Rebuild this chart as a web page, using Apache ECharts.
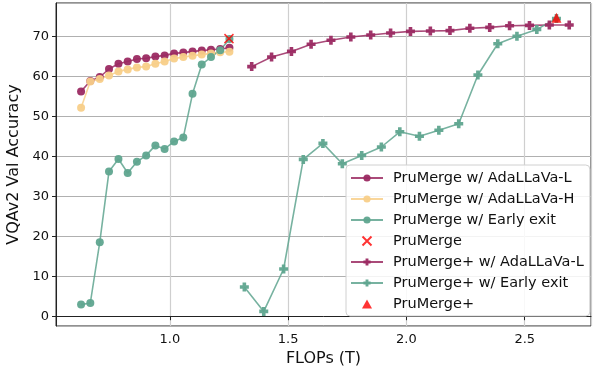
<!DOCTYPE html>
<html>
<head>
<meta charset="utf-8">
<script src="https://cdn.jsdelivr.net/npm/echarts@6/dist/echarts.min.js"></script>
<style>
  html, body { margin: 0; padding: 0; background: #fff; }
  #chart { width: 594px; height: 368px; }
</style>
</head>
<body>
<div id="chart"></div>
<script>
  // FLOPs (T) for the PruMerge runs
  const pmFlops = [0.625, 0.664, 0.704, 0.743, 0.783, 0.822, 0.861, 0.900, 0.939, 0.978, 1.018, 1.057, 1.096, 1.135, 1.174, 1.213, 1.252];
  const pmAdaL = [56.2, 58.8, 59.8, 61.8, 63.1, 63.7, 64.3, 64.5, 64.9, 65.2, 65.7, 65.9, 66.2, 66.4, 66.6, 66.8, 67.1];
  const pmAdaH = [52.1, 58.7, 59.3, 60.2, 61.2, 61.7, 62.2, 62.4, 63.1, 63.7, 64.4, 64.8, 65.1, 65.4, 65.7, 66.0, 66.1];
  const pmEarly = [2.9, 3.3, 18.5, 36.2, 39.3, 35.8, 38.6, 40.2, 42.7, 41.8, 43.7, 44.7, 55.6, 62.9, 64.8, 66.5, 69.3];
  const pmBase = [[1.25, 69.4]];

  // PruMerge+ runs
  const ppFlops = [1.346, 1.430, 1.514, 1.597, 1.681, 1.765, 1.849, 1.933, 2.017, 2.101, 2.184, 2.268, 2.352, 2.436, 2.520, 2.604, 2.688];
  const ppAdaL = [62.4, 64.8, 66.2, 68.0, 69.0, 69.8, 70.3, 70.8, 71.2, 71.3, 71.4, 72.0, 72.2, 72.6, 72.7, 72.8, 72.8];
  const ppEarlyFlops = [1.315, 1.397, 1.481, 1.564, 1.647, 1.729, 1.811, 1.894, 1.972, 2.055, 2.137, 2.221, 2.302, 2.386, 2.467, 2.551, 2.634];
  const ppEarly = [7.3, 1.2, 11.8, 39.2, 43.2, 38.1, 40.2, 42.3, 46.1, 45.0, 46.5, 48.1, 60.3, 68.1, 70.0, 71.7, 74.4];
  const ppBase = [[2.634, 74.6]];

  const PURPLE = '#9b2a62';
  const YELLOW = '#f8cf89';
  const GREEN = '#5fa58f';
  const FONT = 'DejaVu Sans';

  // filled plus (matplotlib 'P'), stroked x, triangle
  const PLUS = 'path://M3,0H7V3H10V7H7V10H3V7H0V3H3Z';
  const CROSS = 'path://M0,0L10,10M10,0L0,10';
  const TRIANGLE = 'path://M5,0L10,9L0,9Z';

  const zip = (xs, ys) => xs.map((x, i) => [x, ys[i]]);

  const lineSeries = (name, xs, ys, color, symbol, size) => ({
    name,
    type: 'line',
    data: zip(xs, ys),
    symbol,
    symbolSize: size,
    lineStyle: { color, width: 1.6, opacity: 0.85 },
    itemStyle: { color, opacity: 0.95 },
    emphasis: { disabled: true },
  });

  const chart = echarts.init(document.getElementById('chart'));

  chart.setOption({
    animation: false,
    textStyle: { fontFamily: FONT },
    grid: {
      left: 56,
      right: 3,
      top: 3,
      bottom: 42,
      outerBoundsMode: 'none',
      containLabel: false,
      show: true,
      borderColor: '#222',
      borderWidth: 1,
    },
    legend: {
      orient: 'vertical',
      left: 346,
      top: 165,
      itemWidth: 32,
      itemHeight: 9,
      itemGap: 5,
      padding: [5, 6, 4, 4],
      backgroundColor: 'rgba(255,255,255,0.85)',
      borderColor: '#d0d0d0',
      borderWidth: 1,
      borderRadius: 4,
      textStyle: { fontFamily: FONT, fontSize: 14.5, color: '#111', lineHeight: 16, padding: [0, 0, 0, 5] },
      data: [
        'PruMerge w/ AdaLLaVa-L',
        'PruMerge w/ AdaLLaVa-H',
        'PruMerge w/ Early exit',
        'PruMerge',
        'PruMerge+ w/ AdaLLaVa-L',
        'PruMerge+ w/ Early exit',
        'PruMerge+',
      ],
    },
    xAxis: {
      type: 'value',
      min: 0.519,
      max: 2.78,
      splitNumber: 5,
      name: 'FLOPs (T)',
      nameLocation: 'middle',
      nameGap: 21,
      nameTextStyle: { fontFamily: FONT, fontSize: 16, color: '#111' },
      axisLine: { show: true, lineStyle: { color: '#222', width: 1 } },
      axisTick: { show: true, length: 4, lineStyle: { color: '#222' } },
      axisLabel: {
        showMinLabel: false,
        showMaxLabel: false,
        margin: 7,
        fontSize: 13,
        color: '#111',
        fontFamily: FONT,
        formatter: (v) => v.toFixed(1),
      },
      splitLine: { show: true, lineStyle: { color: '#cfcfcf', width: 1.2 } },
    },
    yAxis: {
      type: 'value',
      min: -2.45,
      max: 78.3,
      splitNumber: 8,
      name: 'VQAv2 Val Accuracy',
      nameLocation: 'middle',
      nameGap: 30,
      nameTextStyle: { fontFamily: FONT, fontSize: 16, color: '#111' },
      axisLine: { show: true, lineStyle: { color: '#222', width: 1 } },
      axisTick: { show: true, length: 4, lineStyle: { color: '#222' } },
      axisLabel: {
        showMinLabel: false,
        showMaxLabel: false,
        margin: 7,
        fontSize: 13,
        color: '#111',
        fontFamily: FONT,
      },
      splitLine: { show: true, lineStyle: { color: '#b0b0b0', width: 1 } },
    },
    series: [
      lineSeries('PruMerge w/ AdaLLaVa-L', pmFlops, pmAdaL, PURPLE, 'circle', 8),
      lineSeries('PruMerge w/ AdaLLaVa-H', pmFlops, pmAdaH, YELLOW, 'circle', 8),
      lineSeries('PruMerge w/ Early exit', pmFlops, pmEarly, GREEN, 'circle', 8),
      {
        name: 'PruMerge',
        type: 'scatter',
        data: pmBase,
        symbol: CROSS,
        symbolSize: 9,
        itemStyle: { color: 'red', borderColor: 'red', borderWidth: 1.5 },
        z: 5,
      },
      lineSeries('PruMerge+ w/ AdaLLaVa-L', ppFlops, ppAdaL, PURPLE, PLUS, 9),
      lineSeries('PruMerge+ w/ Early exit', ppEarlyFlops, ppEarly, GREEN, PLUS, 9),
      {
        name: 'PruMerge+',
        type: 'scatter',
        data: ppBase,
        symbol: TRIANGLE,
        symbolSize: 10,
        itemStyle: { color: 'red' },
        z: 5,
      },
    ],
  });
</script>
</body>
</html>
